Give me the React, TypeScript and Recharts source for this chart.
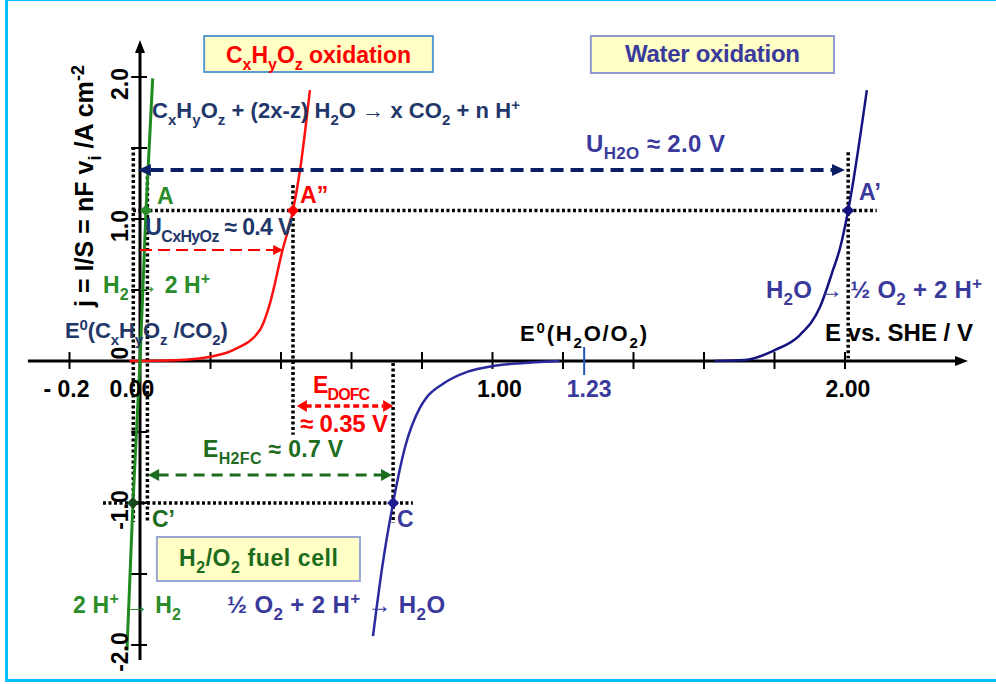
import React from 'react';
import { ComposedChart, Line, XAxis, YAxis, ReferenceLine, ReferenceDot, ReferenceArea } from 'recharts';

const FONT = '"Liberation Sans", Arial, Helvetica, sans-serif';

// Polarisation curves: [E vs SHE / V, j / A cm-2]
const h2Curve = [[-0.037, -2.04], [-0.02, -1.0], [0.0, 0.0], [0.017, 1.06], [0.036, 1.99]];
const organicCurve = [[-0.03, 0], [0.1, 0.005], [0.2, 0.03], [0.264, 0.077], [0.34, 0.218], [0.369, 0.408], [0.403, 0.768], [0.434, 1.06], [0.454, 1.345], [0.482, 1.908]];
const orrCurve = [[0.661, -1.937], [0.686, -1.47], [0.718, -1.0], [0.752, -0.606], [0.794, -0.33], [0.814, -0.254], [0.86, -0.16], [0.928, -0.077], [1.001, -0.035], [1.092, -0.014], [1.19, 0]];
const oerCurve = [[1.63, 0], [1.716, 0.007], [1.801, 0.077], [1.872, 0.183], [1.929, 0.38], [1.966, 0.641], [1.986, 0.796], [2.009, 1.06], [2.062, 1.908]];

// Axis ticks and labels
const xTickValues = [-0.2, 0.2, 0.4, 0.6, 0.8, 1.0, 1.2, 1.4, 1.6, 1.8, 2.0];
const xLabelValues = [-0.2, 0, 1, 2];
const xLabels = ['- 0.2', '0.00', '1.00', '2.00'];
const yTickValues = [-2, -1.5, -1, -0.5, 0.5, 1, 1.5, 2];
const yLabelValues = [2, 1, 0, -1, -2];
const yLabels = ['2.0', '1.0', '0', '-1.0', '-2.0'];
const e0WaterPos = 1.26;
const e0WaterLabel = '1.23';

// Operating points
const pointNames = ['A', 'A”', 'A’', 'C', 'C’'];
const pointE = [0.017, 0.434, 2.009, 0.718, -0.02];
const pointJ = [1.06, 1.06, 1.06, -1.0, -1.0];

const P = (arr: number[][]) => arr.map(([x, y]) => ({ x, y }));

type Seg = { t: string; k: 'n' | 'b' | 'p' };
function parseRich(s: string): Seg[] {
  const out: Seg[] = [];
  let i = 0;
  let buf = '';
  while (i < s.length) {
    const c = s[i];
    if ((c === '_' || c === '^') && s[i + 1] === '{') {
      if (buf) { out.push({ t: buf, k: 'n' }); buf = ''; }
      const end = s.indexOf('}', i);
      out.push({ t: s.slice(i + 2, end), k: c === '_' ? 'b' : 'p' });
      i = end + 1;
    } else { buf += c; i++; }
  }
  if (buf) out.push({ t: buf, k: 'n' });
  return out;
}

function Rich({ x, y, s, color, size = 21, anchor = 'start', rotate = false, len }: any) {
  const segs = parseRich(s);
  let cur = 0;
  const kids = segs.map((g, i) => {
    const target = g.k === 'b' ? size * 0.3 : g.k === 'p' ? -size * 0.38 : 0;
    const dy = target - cur;
    cur = target;
    return (
      <tspan key={i} dy={dy} fontSize={g.k === 'n' ? size : Math.round(size * 0.7)}>{g.t}</tspan>
    );
  });
  return (
    <text x={x} y={y} fill={color} fontSize={size} fontWeight="bold" fontFamily={FONT}
      textAnchor={anchor} style={{ whiteSpace: 'pre' }}
      transform={rotate ? `rotate(-90 ${x} ${y})` : undefined}
      textLength={len} lengthAdjust={len ? 'spacing' : undefined}>
      {kids}
    </text>
  );
}

const note = (key: string, E: number, j: number, s: string, color: string, size: number, opts: any = {}) => (
  <ReferenceDot key={key} x={E} y={j} r={1} ifOverflow="visible"
    shape={(p: any) => (
      <Rich x={p.cx + (opts.dx || 0)} y={p.cy + (opts.dy || 0)} s={s} color={color} size={size}
        anchor={opts.anchor || 'start'} rotate={!!opts.rotate} len={opts.len} />
    )} />
);

const seg = (key: string, x1: number, y1: number, x2: number, y2: number, stroke: string, w: number, dash?: string) => (
  <ReferenceLine key={key} segment={[{ x: x1, y: y1 }, { x: x2, y: y2 }]} stroke={stroke}
    strokeWidth={w} strokeDasharray={dash} ifOverflow="visible" />
);

const arrow = (key: string, x: number, y: number, dir: 'l' | 'r' | 'u', color: string, len = 12, half = 6) => (
  <ReferenceDot key={key} x={x} y={y} r={1} ifOverflow="visible"
    shape={(p: any) => {
      const { cx, cy } = p;
      let pts = '';
      if (dir === 'r') pts = `${cx},${cy} ${cx - len},${cy - half} ${cx - len},${cy + half}`;
      if (dir === 'l') pts = `${cx},${cy} ${cx + len},${cy - half} ${cx + len},${cy + half}`;
      if (dir === 'u') pts = `${cx},${cy} ${cx - half},${cy + len} ${cx + half},${cy + len}`;
      return <polygon points={pts} fill={color} />;
    }} />
);

const diamond = (key: string, x: number, y: number, color: string, r = 6) => (
  <ReferenceDot key={key} x={x} y={y} r={1} ifOverflow="visible"
    shape={(p: any) => {
      const { cx, cy } = p;
      return <polygon points={`${cx},${cy - r} ${cx + r},${cy} ${cx},${cy + r} ${cx - r},${cy}`} fill={color} />;
    }} />
);

const NAVY = '#1f3769';
const SLATE = '#3a3a9c';
const RED = '#ff0000';
const GREEN = '#2a8c2a';
const DGREEN = '#1d6b1d';
const DOT = '3 2.5';

export default function App() {
  const pointColors = [GREEN, RED, '#141480', '#1c1c90', '#1a4a1a'];
  return (
    <div style={{ position: 'absolute', left: 0, top: 0, width: 996, height: 684, overflow: 'hidden', background: '#fff' }}>
      <div style={{ position: 'absolute', left: 5, top: -2, width: 1020, height: 678, border: '3px solid #00bfff' }} />
      <div style={{ position: 'absolute', left: 0, top: 0 }}>
        <ComposedChart width={996} height={684} margin={{ top: 30.14, right: 2.95, bottom: 13.44, left: 13.1 }}>
          <XAxis type="number" dataKey="x" domain={[-0.36, 2.42]} allowDataOverflow hide />
          <YAxis type="number" dataKey="y" domain={[-2.18, 2.33]} allowDataOverflow hide />

          {/* label boxes */}
          <ReferenceArea x1={0.182} x2={0.831} y1={2.035} y2={2.289} fill="#ffffc6" fillOpacity={1} stroke="#5b9bd5" strokeWidth={2} ifOverflow="visible" />
          <ReferenceArea x1={1.279} x2={1.969} y1={2.028} y2={2.289} fill="#ffffc6" fillOpacity={1} stroke="#8e9ad0" strokeWidth={2} ifOverflow="visible" />
          <ReferenceArea x1={0.048} x2={0.624} y1={-1.549} y2={-1.239} fill="#ffffc6" fillOpacity={1} stroke="#9aa6d6" strokeWidth={2} ifOverflow="visible" />

          {/* axes */}
          {seg('xaxis', -0.318, 0, 2.33, 0, '#000', 3)}
          {arrow('xarr', 2.349, 0, 'r', '#000', 13, 5)}
          {seg('yaxis', 0, -2.106, 0, 2.22, '#000', 3)}
          {arrow('yarr', 0, 2.26, 'u', '#000', 13, 5)}
          {xTickValues.map((v, i) => seg('xt' + i, v, -0.056, v, 0.063, '#000', 2))}
          {yTickValues.map((v, i) => seg('yt' + i, -0.025, v, 0.02, v, '#000', 2))}

          {/* guide lines */}
          {seg('d1', -0.019, 1.507, -0.019, -1.134, '#000', 3.5, DOT)}
          {seg('d2', 0.021, 1.30, 0.021, -1.134, '#000', 3.5, DOT)}
          {seg('d3', pointE[4], pointJ[0], 2.09, pointJ[0], '#000', 3.5, DOT)}
          {seg('d4', -0.105, pointJ[3], 0.774, pointJ[3], '#000', 3.5, DOT)}
          {seg('d5', pointE[1], 1.24, pointE[1], -0.52, '#000', 3.5, DOT)}
          {seg('d6', pointE[3], -0.014, pointE[3], -1.14, '#000', 3.5, DOT)}
          {seg('d7', pointE[2], 1.47, pointE[2], 0.02, '#000', 3.5, DOT)}

          {/* curves */}
          <Line data={P(organicCurve)} dataKey="y" type="monotone" stroke="#ff1010" strokeWidth={2.5} dot={false} isAnimationActive={false} />
          <Line data={P(orrCurve)} dataKey="y" type="monotone" stroke="#2a2aa0" strokeWidth={2.5} dot={false} isAnimationActive={false} />
          <Line data={P(oerCurve)} dataKey="y" type="monotone" stroke="#141480" strokeWidth={2.5} dot={false} isAnimationActive={false} />
          <Line data={P(h2Curve)} dataKey="y" type="linear" stroke="#1f8a1f" strokeWidth={3} dot={false} isAnimationActive={false} />

          {/* E0 water marker */}
          {seg('e0w', e0WaterPos, 0.099, e0WaterPos, -0.099, '#2255bb', 2)}

          {/* dashed arrows */}
          {seg('ua', 0.03, 1.345, 1.965, 1.345, '#0b1f66', 4, '13 7')}
          {arrow('ua1', -0.006, 1.345, 'l', '#0b1f66', 13, 6)}
          {arrow('ua2', 2.0, 1.345, 'r', '#0b1f66', 13, 6)}
          {seg('ra', 0.0, 0.782, 0.38, 0.782, RED, 2, '12 6')}
          {arrow('ra1', 0.406, 0.782, 'r', RED, 10, 5)}
          {seg('ed', 0.47, -0.317, 0.69, -0.317, RED, 3.5, '6 3.5')}
          {arrow('ed1', 0.445, -0.317, 'l', RED, 10, 6)}
          {arrow('ed2', 0.718, -0.317, 'r', RED, 10, 6)}
          {seg('eh', 0.05, -0.803, 0.685, -0.803, DGREEN, 3, '11 7')}
          {arrow('eh1', 0.023, -0.803, 'l', DGREEN, 11, 6)}
          {arrow('eh2', 0.715, -0.803, 'r', DGREEN, 11, 6)}

          {/* operating points */}
          {pointE.map((e, i) => diamond('pt' + i, e, pointJ[i], pointColors[i]))}

          {/* tick labels */}
          {xLabelValues.map((v, i) => note('xl' + i, v, 0, xLabels[i], '#000', 23, { anchor: 'middle', dy: 36, dx: [-3, -8, 7, 3][i] }))}
          {yLabelValues.map((v, i) => note('yl' + i, 0, v, yLabels[i], '#000', 23, { anchor: 'middle', rotate: true, dx: -12, dy: v === 0 ? -8 : 7 }))}
          {note('e0wl', e0WaterPos, 0, e0WaterLabel, SLATE, 23, { anchor: 'middle', dy: 36, dx: 5 })}

          {/* axis titles */}
          {note('ylab', -0.133, 1.232, 'j = I/S = nF v_{i} /A cm^{-2}', '#000', 25, { anchor: 'middle', rotate: true, len: 242 })}
          {note('xlab', 1.943, 0.141, 'E vs. SHE / V', '#000', 24, { len: 148 })}

          {/* box titles */}
          {note('b1', 0.5065, 2.099, 'C_{x}H_{y}O_{z} oxidation', RED, 23, { anchor: 'middle', len: 185 })}
          {note('b2', 1.624, 2.106, 'Water oxidation', SLATE, 24, { anchor: 'middle', len: 175 })}
          {note('b3', 0.336, -1.444, 'H_{2}/O_{2} fuel cell', DGREEN, 23, { anchor: 'middle', len: 159 })}

          {/* annotations */}
          {note('r1', 0.034, 1.711, 'C_{x}H_{y}O_{z} + (2x-z) H_{2}O → x CO_{2} + n H^{+}', NAVY, 22, { len: 368 })}
          {note('uh', 1.265, 1.472, 'U_{H2O} ≈ 2.0 V', SLATE, 24, { len: 139 })}
          {note('pA', 0.048, 1.106, pointNames[0], GREEN, 23)}
          {note('pA2', 0.454, 1.113, pointNames[1], RED, 23)}
          {note('pA1', 2.04, 1.134, pointNames[2], SLATE, 23)}
          {note('pC', 0.729, -1.169, pointNames[3], SLATE, 23)}
          {note('pC1', 0.034, -1.169, pointNames[4], DGREEN, 23)}
          {note('uc', 0.015, 0.887, 'U_{CxHyOz} ≈ 0.4 V', NAVY, 23, { len: 148 })}
          {note('h2', -0.105, 0.479, 'H_{2} → 2 H^{+}', GREEN, 23, { len: 107 })}
          {note('e0o', -0.213, 0.162, 'E^{0}(C_{x}H_{y}O_{z} /CO_{2})', NAVY, 22, { len: 163 })}
          {note('e0w2', 1.078, 0.141, 'E^{0}(H_{2}O/O_{2})', '#000', 22, { len: 127 })}
          {note('oer', 1.776, 0.444, 'H_{2}O → ½ O_{2} + 2 H^{+}', SLATE, 24, { len: 216 })}
          {note('edl', 0.491, -0.225, 'E_{DOFC}', RED, 23, { len: 57 })}
          {note('edv', 0.454, -0.5, '≈ 0.35 V', RED, 24, { len: 88 })}
          {note('ehl', 0.179, -0.676, 'E_{H2FC} ≈ 0.7 V', DGREEN, 23, { len: 140 })}
          {note('her', -0.19, -1.775, '2 H^{+} → H_{2}', GREEN, 23, { len: 108 })}
          {note('orr', 0.247, -1.775, '½ O_{2} + 2 H^{+} → H_{2}O', SLATE, 24, { len: 218 })}
        </ComposedChart>
      </div>
    </div>
  );
}
